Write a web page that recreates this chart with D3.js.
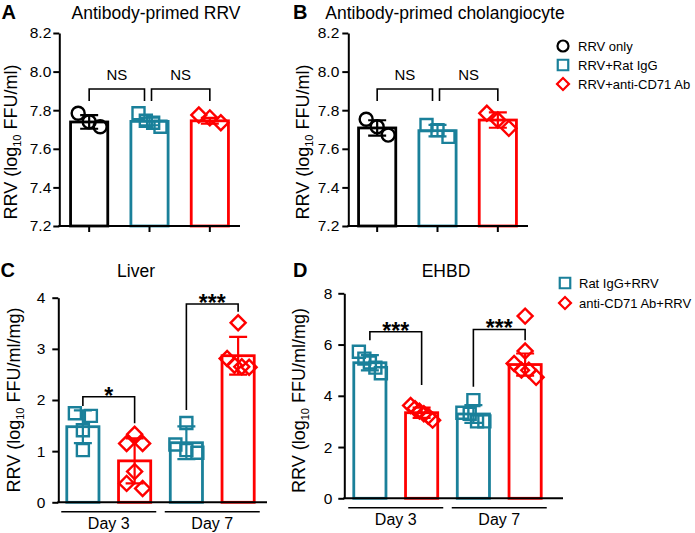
<!DOCTYPE html>
<html><head><meta charset="utf-8">
<script src="https://cdn.jsdelivr.net/npm/d3@7"></script>
<style>
body{margin:0;background:#fff}
text{font-family:Arial,"Liberation Sans",sans-serif;fill:#000}
</style>
</head><body>
<svg id="c" width="695" height="533"></svg>
<script>
// ---------------- DATA ----------------
const groupsAB = ["RRV only", "RRV+Rat IgG", "RRV+anti-CD71 Ab"];
const ticksAB = [7.2, 7.4, 7.6, 7.8, 8.0, 8.2];
const meanA = [7.739, 7.742, 7.745];
const sdA = [0.035, 0.02, 0.015];
const pointsA = [[7.784, 7.740, 7.714], [7.784, 7.745, 7.735, 7.714], [7.775, 7.760, 7.735]];
const sigA = [
  {a: 0, b: 1, label: "NS", legA: 7.848, legB: 7.848, top: 7.91},
  {a: 1, b: 2, label: "NS", legA: 7.848, legB: 7.848, top: 7.91}
];
const meanB = [7.708, 7.694, 7.749];
const sdB = [0.04, 0.03, 0.04];
const pointsB = [[7.753, 7.714, 7.671], [7.723, 7.697, 7.662], [7.784, 7.749, 7.706]];
const sigB = [
  {a: 0, b: 1, label: "NS", legA: 7.848, legB: 7.848, top: 7.91},
  {a: 1, b: 2, label: "NS", legA: 7.848, legB: 7.848, top: 7.91}
];

const groupsCD = ["Rat IgG+RRV", "anti-CD71 Ab+RRV"];
const daysCD = ["Day 3", "Day 7"];
const ticksC = [0, 1, 2, 3, 4];
// order: Day3 IgG, Day3 anti-CD71, Day7 IgG, Day7 anti-CD71
const meanC = [1.478, 0.81, 1.165, 2.866];
const sdC = [0.32, 0.44, 0.32, 0.37];
const pointsC = [[1.74, 1.69, 1.41, 1.02], [1.33, 1.15, 1.15, 0.60, 0.37, 0.27],
                 [1.55, 1.13, 1.02, 0.97], [3.51, 2.81, 2.68, 2.65, 2.64]];
const sigC = [
  {a: 0, b: 1, label: "*", legA: 1.883, legB: 1.545, top: 2.065},
  {a: 2, b: 3, label: "***", legA: 1.805, legB: 3.726, top: 3.877}
];
const ticksD = [0, 2, 4, 6, 8];
const meanD = [5.29, 3.34, 3.29, 5.22];
const sdD = [0.30, 0.20, 0.35, 0.43];
const pointsD = [[5.72, 5.45, 5.30, 5.10, 4.88], [3.62, 3.50, 3.40, 3.30, 3.20, 3.05],
                 [3.83, 3.34, 3.30, 3.00, 3.00], [7.11, 5.75, 5.26, 5.00, 5.00, 4.72]];
const sigD = [
  {a: 0, b: 1, label: "***", legA: 6.17, legB: 4.42, top: 6.50},
  {a: 2, b: 3, label: "***", legA: 4.35, legB: 6.17, top: 6.59}
];

// ---------------- STYLE ----------------
const BLACK = "#000000", TEAL = "#1a809a", RED = "#ff0000";
const svg = d3.select("#c");

function marker(shape, s) {
  if (shape === "circle") return d3.symbol(d3.symbolCircle, Math.PI * s * s / 4)();
  if (shape === "square") return d3.symbol(d3.symbolSquare, s * s)();
  return d3.symbol(d3.symbolSquare, s * s * 0.5)(); // diamond (rotated)
}

function jitter(ypx, maxW) {
  const idx = ypx.map((v, i) => i).sort((a, b) => ypx[a] - ypx[b]);
  const off = new Array(ypx.length).fill(0);
  let clusters = [], cur = [];
  idx.forEach((i, k) => {
    if (k > 0 && ypx[i] - ypx[idx[k - 1]] > 9) { clusters.push(cur); cur = []; }
    cur.push(i);
  });
  if (cur.length) clusters.push(cur);
  clusters.forEach(c => {
    const n = c.length;
    if (n < 2) return;
    const s = Math.min(16, maxW / (n - 1));
    c.forEach((i, k) => off[i] = k * s - (n - 1) * s / 2);
  });
  return off;
}

function drawPanel(o) {
  const g = svg.append("g");
  const y = d3.scaleLinear().domain(o.yDomain).range(o.yRange);
  const x = d3.scaleBand().domain(d3.range(o.means.length)).range(o.xRange)
    .paddingInner(o.pad).paddingOuter(o.pad / 2);
  const bw = x.bandwidth(), sw = 2.8;
  const y0 = o.yRange[0];

  // bars
  g.selectAll("rect.bar").data(o.means).join("rect")
    .attr("x", (d, i) => x(i) + sw / 2).attr("width", bw - sw)
    .attr("y", d => y(d)).attr("height", d => y0 - y(d))
    .attr("fill", "none").attr("stroke", (d, i) => o.colors[i]).attr("stroke-width", sw);

  // points
  o.points.forEach((pts, i) => {
    const cx = x(i) + bw / 2;
    const ypx = pts.map(v => y(v));
    const off = jitter(ypx, 22);
    g.selectAll(null).data(pts).join("path")
      .attr("d", marker(o.shapes[i], o.shapes[i] === "diamond" ? 15 : (o.shapes[i] === "circle" ? 13 : 12)))
      .attr("transform", (d, k) => `translate(${cx + off[k]},${ypx[k]})` + (o.shapes[i] === "diamond" ? " rotate(45)" : ""))
      .attr("fill", "none").attr("stroke", o.colors[i]).attr("stroke-width", 2.4);
  });

  // error bars
  o.means.forEach((m, i) => {
    const cx = x(i) + bw / 2, hi = y(m + o.sds[i]), lo = y(m - o.sds[i]);
    g.append("path").attr("d", `M${cx},${hi}V${lo}M${cx - 9},${hi}H${cx + 9}M${cx - 9},${lo}H${cx + 9}`)
      .attr("fill", "none").attr("stroke", o.colors[i]).attr("stroke-width", 2.2);
  });

  // y axis
  const ya = g.append("g").attr("transform", `translate(${o.axisX},0)`)
    .call(d3.axisLeft(y).tickValues(o.ticks).tickFormat(o.fmt).tickSize(6).tickSizeOuter(0).tickPadding(o.tickPad));
  ya.selectAll("path,line").attr("stroke", "#000").attr("stroke-width", 2);
  ya.selectAll("text").style("font-size", "15.5px").attr("fill", "#000").style("font-family", "Arial, 'Liberation Sans', sans-serif");

  // x axis line
  g.append("line").attr("x1", o.axisX - 1).attr("x2", o.axisEnd).attr("y1", y0).attr("y2", y0)
    .attr("stroke", "#000").attr("stroke-width", 2);
  if (o.xTicks) {
    o.means.forEach((m, i) => {
      const cx = x(i) + bw / 2;
      g.append("line").attr("x1", cx).attr("x2", cx).attr("y1", y0).attr("y2", y0 + 6)
        .attr("stroke", "#000").attr("stroke-width", 2);
    });
  }
  if (o.days) {
    o.days.forEach((dname, j) => {
      const c0 = x(2 * j) + bw / 2, c1 = x(2 * j + 1) + bw / 2, mid = (c0 + c1) / 2;
      g.append("line").attr("x1", mid - 47.5).attr("x2", mid + 47.5).attr("y1", y0 + 9.5).attr("y2", y0 + 9.5)
        .attr("stroke", "#000").attr("stroke-width", 1.5);
      g.append("text").attr("x", mid).attr("y", y0 + 27).attr("text-anchor", "middle")
        .style("font-size", "16px").text(dname);
    });
  }

  // significance brackets
  o.sig.forEach(s => {
    let xa = x(s.a) + bw / 2, xb = x(s.b) + bw / 2;
    if (s.label === "NS") {
      if (s.a === 1) xa += 2; else xb -= 5;
    }
    const t = y(s.top);
    g.append("path").attr("d", `M${xa},${y(s.legA)}V${t}H${xb}V${y(s.legB)}`)
      .attr("fill", "none").attr("stroke", "#000").attr("stroke-width", 1.6);
    const mid = (xa + xb) / 2;
    if (s.label === "NS") {
      g.append("text").attr("x", mid).attr("y", t - 9).attr("text-anchor", "middle")
        .style("font-size", "15px").text(s.label);
    } else {
      g.append("text").attr("x", mid).attr("y", t + 7).attr("text-anchor", "middle")
        .style("font-size", "23px").style("font-weight", "bold").text(s.label);
    }
  });

  // title, letter, y label
  g.append("text").attr("x", o.titleX).attr("y", o.titleY).attr("text-anchor", "middle")
    .style("font-size", "17.5px").text(o.title);
  g.append("text").attr("x", o.letterX).attr("y", o.titleY).style("font-size", "20px")
    .style("font-weight", "bold").text(o.letter);
  const yl = g.append("text").attr("transform", `translate(${o.labelX},${o.labelY}) rotate(-90)`)
    .attr("text-anchor", "middle").style("font-size", "18px");
  yl.append("tspan").text("RRV (log");
  yl.append("tspan").attr("dy", 4).style("font-size", "11px").text("10");
  yl.append("tspan").attr("dy", -4).text(" " + o.unit + ")");
}

const colsAB = [BLACK, TEAL, RED], shapesAB = ["circle", "square", "diamond"];
const colsCD = [TEAL, RED, TEAL, RED], shapesCD = ["square", "diamond", "square", "diamond"];
const fmt1 = d3.format(".1f"), fmt0 = d3.format("d");

drawPanel({means: meanA, sds: sdA, points: pointsA, sig: sigA, colors: colsAB, shapes: shapesAB,
  yDomain: [7.2, 8.2], yRange: [226, 33], ticks: ticksAB, fmt: fmt1, tickPad: 2,
  xRange: [59, 240], pad: 0.337, axisX: 59.3, axisEnd: 240, xTicks: true,
  title: "Antibody-primed RRV", titleX: 156, titleY: 18.5, letter: "A", letterX: 1.5,
  labelX: 17, labelY: 142, unit: "FFU/ml"});
drawPanel({means: meanB, sds: sdB, points: pointsB, sig: sigB, colors: colsAB, shapes: shapesAB,
  yDomain: [7.2, 8.2], yRange: [226, 33], ticks: ticksAB, fmt: fmt1, tickPad: 3,
  xRange: [347, 528], pad: 0.337, axisX: 348.3, axisEnd: 528, xTicks: true,
  title: "Antibody-primed cholangiocyte", titleX: 445, titleY: 18.5, letter: "B", letterX: 293,
  labelX: 308.5, labelY: 142, unit: "FFU/ml"});
drawPanel({means: meanC, sds: sdC, points: pointsC, sig: sigC, colors: colsCD, shapes: shapesCD,
  yDomain: [0, 4], yRange: [502.3, 297.7], ticks: ticksC, fmt: fmt0, tickPad: 7,
  xRange: [57, 264], pad: 0.324, axisX: 58.3, axisEnd: 267, xTicks: false, days: daysCD,
  title: "Liver", titleX: 136, titleY: 277, letter: "C", letterX: 0.5,
  labelX: 20, labelY: 400, unit: "FFU/ml/mg"});
drawPanel({means: meanD, sds: sdD, points: pointsD, sig: sigD, colors: colsCD, shapes: shapesCD,
  yDomain: [0, 8], yRange: [498.3, 293.3], ticks: ticksD, fmt: fmt0, tickPad: 6,
  xRange: [344, 551], pad: 0.324, axisX: 344.3, axisEnd: 563, xTicks: false, days: daysCD,
  title: "EHBD", titleX: 446, titleY: 277, letter: "D", letterX: 293,
  labelX: 305, labelY: 400.5, unit: "FFU/ml/mg"});

// legends
function legend(items, cols, shapes, x0, ys, tx) {
  const g = svg.append("g");
  items.forEach((name, i) => {
    g.append("path").attr("d", marker(shapes[i], shapes[i] === "diamond" ? 12 : (shapes[i] === "circle" ? 11 : 10.5)))
      .attr("transform", `translate(${x0},${ys[i]})` + (shapes[i] === "diamond" ? " rotate(45)" : ""))
      .attr("fill", "none").attr("stroke", cols[i]).attr("stroke-width", 2.2);
    g.append("text").attr("x", tx).attr("y", ys[i] + 4.7).style("font-size", "13px").text(name);
  });
}
legend(groupsAB, colsAB, shapesAB, 563, [46, 65, 84], 578);
legend(groupsCD, [TEAL, RED], ["square", "diamond"], 565, [283, 303], 579);
</script>
</body></html>
